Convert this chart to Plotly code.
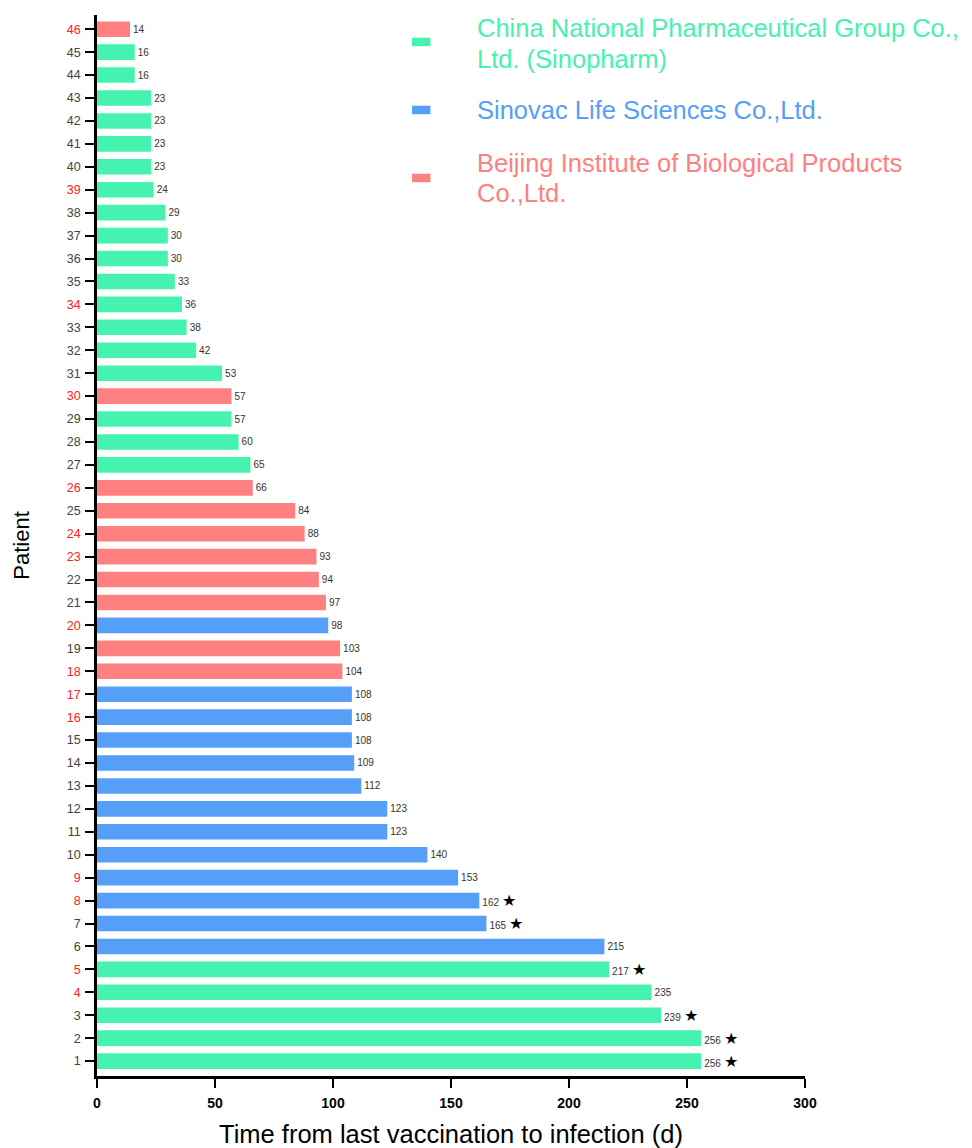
import plotly.graph_objects as go

patients = list(range(1, 47))
days = [256, 256, 239, 235, 217, 215, 165, 162, 153, 140,
        123, 123, 112, 109, 108, 108, 108, 104, 103, 98,
        97, 94, 93, 88, 84, 66, 65, 60, 57, 57,
        53, 42, 38, 36, 33, 30, 30, 29, 24, 23,
        23, 23, 23, 16, 16, 14]
# G = Sinopharm, S = Sinovac, B = Beijing Institute
maker = ["G", "G", "G", "G", "G", "S", "S", "S", "S", "S",
         "S", "S", "S", "S", "S", "S", "S", "B", "B", "S",
         "B", "B", "B", "B", "B", "B", "G", "G", "G", "B",
         "G", "G", "G", "G", "G", "G", "G", "G", "G", "G",
         "G", "G", "G", "G", "G", "B"]
starred = [1, 2, 3, 5, 7, 8]
red_labels = [4, 5, 8, 9, 16, 17, 18, 20, 23, 24, 26, 30, 34, 39, 46]

groups = [
    ("G", ["China National Pharmaceutical Group Co.,", "Ltd. (Sinopharm)"], "#46F2B0"),
    ("S", ["Sinovac Life Sciences Co.,Ltd."], "#569FF8"),
    ("B", ["Beijing Institute of Biological Products", "Co.,Ltd."], "#FF8080"),
]

FONT = "Arial, Liberation Sans, sans-serif"

fig = go.Figure()
for code, lines, color in groups:
    ys, xs, txt = [], [], []
    for p, d, m in zip(patients, days, maker):
        if m != code:
            continue
        ys.append(p)
        xs.append(d)
        t = str(d)
        if p in starred:
            t += " <span style='font-size:16px;color:black'>★</span>"
        txt.append(t)
    fig.add_trace(go.Bar(
        y=ys, x=xs, orientation="h", name=" ".join(lines),
        marker=dict(color=color, line=dict(width=0)),
        width=0.68, text=txt, textposition="outside",
        textfont=dict(size=10, color="#333333", family=FONT),
        constraintext="none", cliponaxis=False, showlegend=False,
    ))

ticktext = [f"<span style='color:#FF2020'>{p}</span>" if p in red_labels else str(p)
            for p in patients]

fig.update_layout(
    width=964, height=1140,
    margin=dict(l=89, r=167, t=7, b=72),
    plot_bgcolor="white", paper_bgcolor="white",
    barmode="overlay",
    font=dict(family=FONT, color="#333333"),
    xaxis=dict(
        range=[0, 300], tickvals=[0, 50, 100, 150, 200, 250, 300],
        automargin=False,
        showline=True, linecolor="black", linewidth=2.5,
        ticks="outside", ticklen=9, tickwidth=2, tickcolor="black",
        ticklabelstandoff=3,
        tickfont=dict(size=14, color="black", family=FONT, weight="bold"),
        showgrid=False, zeroline=False,
        title=dict(text="Time from last vaccination to infection (d)",
                   font=dict(size=25.5, color="black"), standoff=22),
    ),
    yaxis=dict(
        range=[0.35, 46.62], tickvals=patients, ticktext=ticktext,
        automargin=False,
        showline=True, linecolor="black", linewidth=2.5,
        ticks="outside", ticklen=9, tickwidth=2, tickcolor="black",
        ticklabelstandoff=2,
        tickfont=dict(size=12.5, color="#444444"),
        showgrid=False, zeroline=False,
        title=dict(text="Patient", font=dict(size=22, color="black"), standoff=32),
    ),
)

# custom legend (paper coordinates)
swatch_y = [0.9746, 0.9105, 0.8464]
line_y = [[0.9877, 0.9585], [0.9105], [0.8605, 0.8322]]
for (code, lines, color), sy, lys in zip(groups, swatch_y, line_y):
    fig.add_shape(type="rect", xref="paper", yref="paper",
                  x0=0.4449, x1=0.4710, y0=sy - 0.0040, y1=sy + 0.0040,
                  fillcolor=color, line=dict(width=0))
    for txt, ly in zip(lines, lys):
        fig.add_annotation(xref="paper", yref="paper", x=0.5339, y=ly,
                           xanchor="left", yanchor="middle", align="left",
                           text=txt, showarrow=False,
                           font=dict(size=25.5, color=color, family=FONT))

fig.write_html("out.html")
